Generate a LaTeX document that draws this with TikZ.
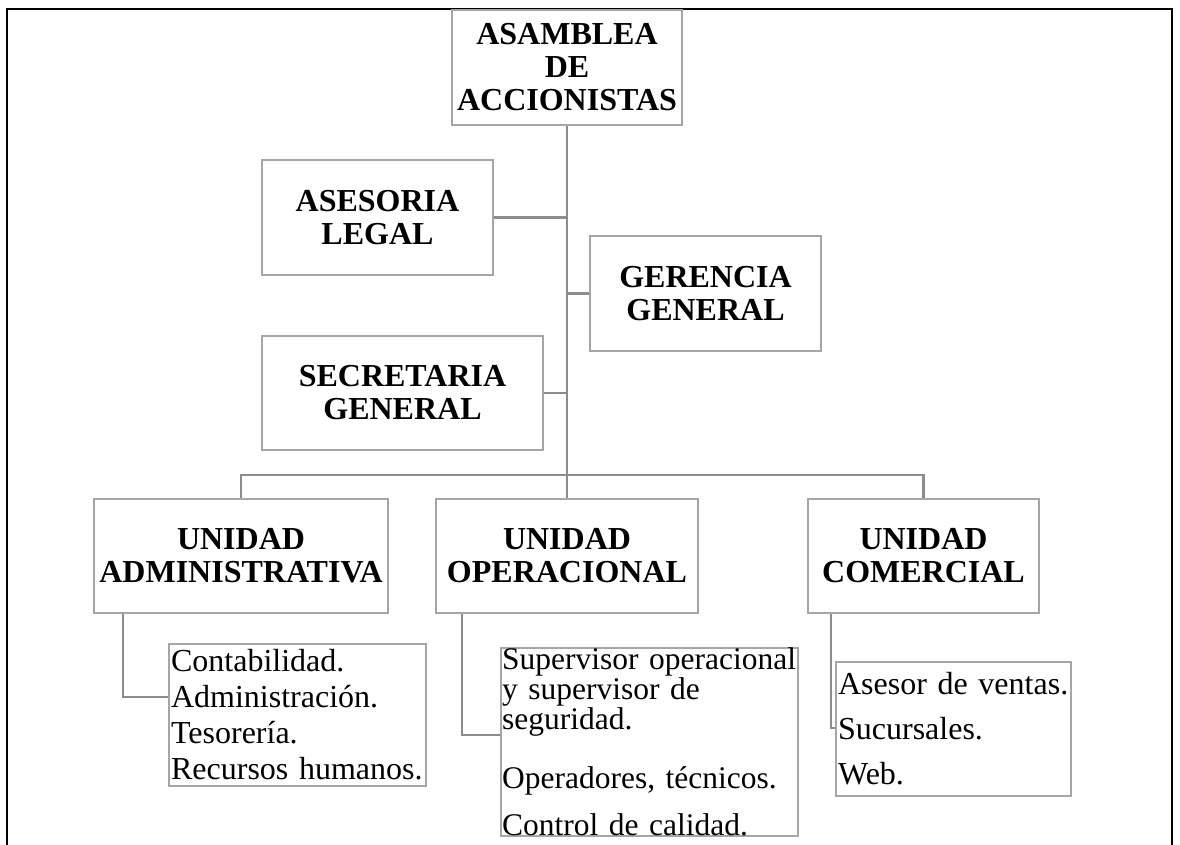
\documentclass[tikz,border=0pt]{standalone}
\usepackage{fontspec}
\setmainfont{Liberation Serif}
\definecolor{boxgray}{HTML}{A6A6A6}
\definecolor{linegray}{HTML}{8C8C8C}

\begin{document}
\begin{tikzpicture}[x=1pt, y=-1pt,
    unit/.style={draw=boxgray, line width=2.2pt, fill=white, inner sep=0pt, align=center,
      font=\fontsize{32}{33}\selectfont\bfseries},
    list/.style={draw=boxgray, line width=2.2pt, fill=white, inner xsep=2pt, inner ysep=0pt,
      anchor=north west, align=left},
    link/.style={draw=linegray, line width=2.5pt}]
    \useasboundingbox (0, 0) rectangle (1180, 845);
    \draw [line width=2pt] (7, 845) -- (7, 9) -- (1172, 9) -- (1172, 845);
    \node[unit, minimum width=230, minimum height=115] (asam) at (567, 67.5) {ASAMBLEA\\DE\\ACCIONISTAS};
    \node[unit, minimum width=231, minimum height=115] (ases) at (377.5, 217.5) {ASESORIA\\LEGAL};
    \node[unit, minimum width=231, minimum height=115] (ger) at (705.5, 293.5) {GERENCIA\\GENERAL};
    \node[unit, minimum width=281, minimum height=114] (sec) at (402.5, 393) {SECRETARIA\\GENERAL};
    \node[unit, minimum width=294, minimum height=114] (adm) at (241, 556) {UNIDAD\\ADMINISTRATIVA};
    \node[unit, minimum width=262, minimum height=114] (ope) at (567, 556) {UNIDAD\\OPERACIONAL};
    \node[unit, minimum width=231, minimum height=114] (com) at (923.5, 556) {UNIDAD\\COMERCIAL};
    \node[list, text width=253, minimum height=142, font=\fontsize{32}{36}\selectfont] (admlist) at (168, 643)
      {Contabilidad.\\Administración.\\Tesorería.\\\mbox{Recursos humanos.}};
    \node[list, inner xsep=1pt, text width=295, minimum height=186, font=\fontsize{31.5}{28}\selectfont] (opelist) at (500, 647)
      {\mbox{Supervisor operacional}\\y supervisor de\\seguridad.\\[30pt]Operadores, técnicos.\\[17pt]Control de calidad.};
    \node[list, text width=231, minimum height=134, font=\fontsize{32}{45}\selectfont] (comlist) at (835, 661)
      {\mbox{Asesor de ventas.}\\Sucursales.\\Web.};
    \coordinate (bus) at (567, 475);
    \draw [link] (asam) -- (ope);
    \draw [link] (ases) -- (ases -| asam);
    \draw [link] (ger) -- (ger -| asam);
    \draw [link] (sec) -- (sec -| asam);
    \draw [link] (adm.north) |- (bus) -| (com.north);
    \draw [link] ([xshift=30pt]adm.south west) |- ([yshift=-54pt]admlist.north west);
    \draw [link] ([xshift=27pt]ope.south west) |- ([yshift=-88pt]opelist.north west);
    \draw [link] ([xshift=24pt]com.south west) |- ([yshift=-67pt]comlist.north west);
  \end{tikzpicture}
\end{document}
